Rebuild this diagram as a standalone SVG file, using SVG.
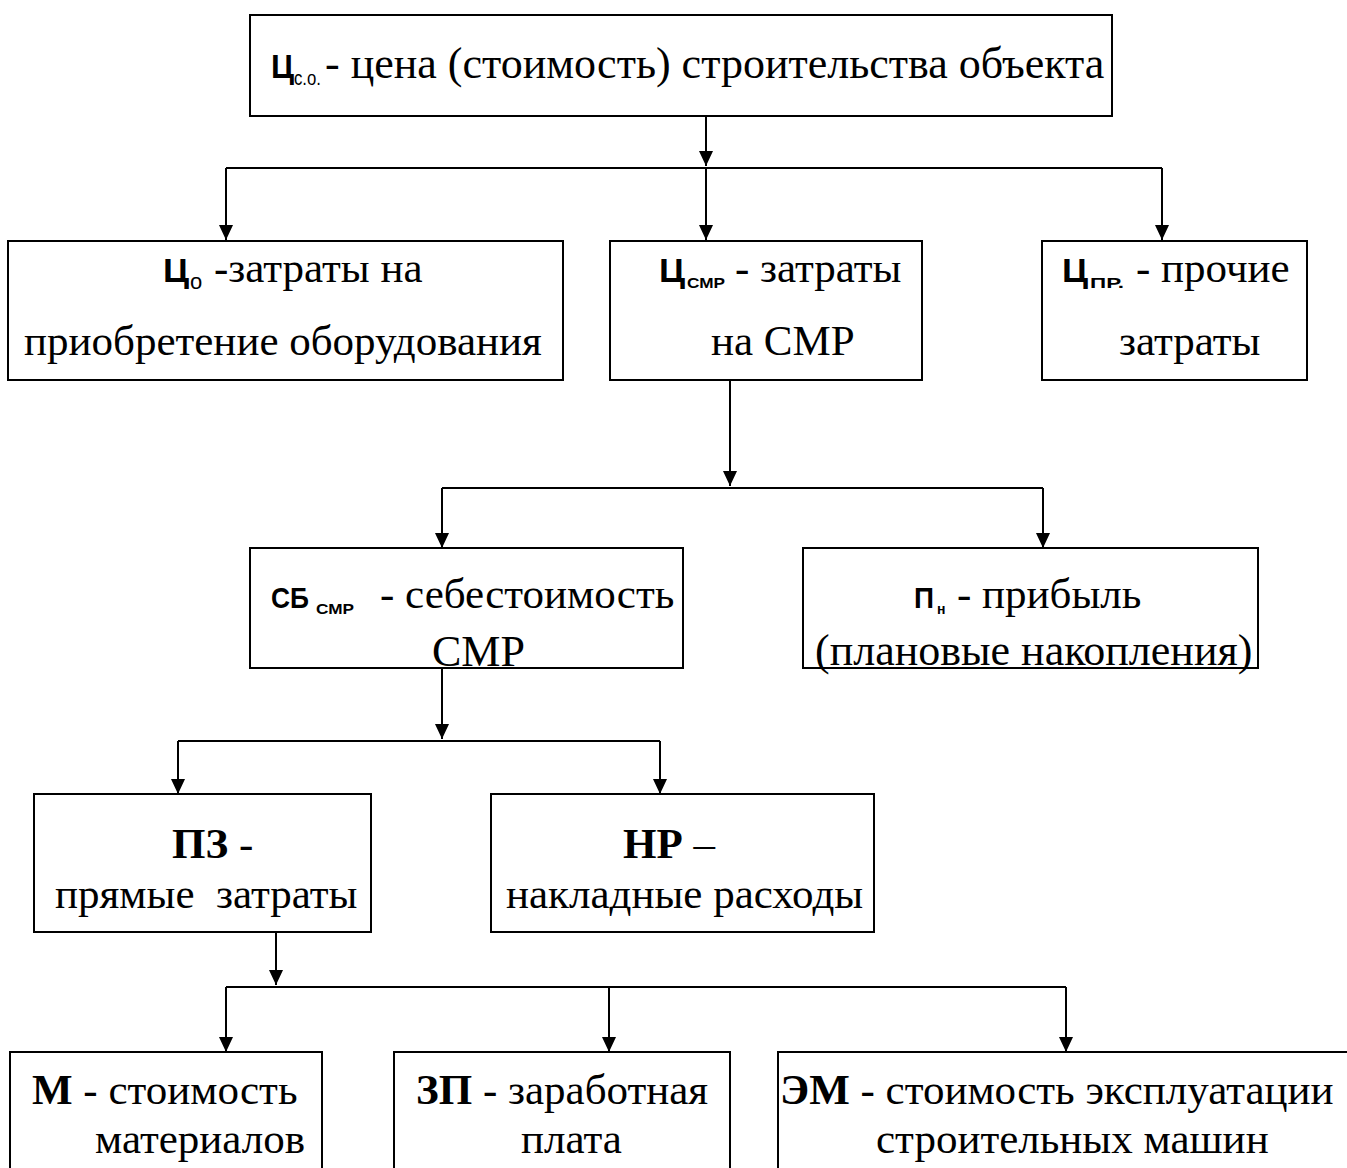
<svg xmlns="http://www.w3.org/2000/svg" width="1347" height="1168" viewBox="0 0 1347 1168">
<style>
.box{fill:#fff;stroke:#000;stroke-width:2}
.t{font-family:"Liberation Serif","Times New Roman",serif;font-size:43px;fill:#000}
.tb{font-family:"Liberation Serif","Times New Roman",serif;font-size:43px;font-weight:bold;fill:#000}
.s{font-family:"Liberation Sans",Arial,sans-serif;font-weight:bold;font-size:33px;fill:#000}
.sub{font-family:"Liberation Sans",Arial,sans-serif;font-weight:bold;font-size:15px;fill:#000}
.subr{font-family:"Liberation Sans",Arial,sans-serif;font-size:20px;fill:#000}
.c{fill:none;stroke:#000;stroke-width:2}
.ca{fill:none;stroke:#000;stroke-width:2;marker-end:url(#ah)}
</style>
<defs>
<marker id="ah" viewBox="0 0 15 14" refX="15" refY="7" markerWidth="15" markerHeight="14" markerUnits="userSpaceOnUse" orient="auto">
<path d="M0,0 L15,7 L0,14 z" fill="#000"/>
</marker>
</defs>
<rect width="1347" height="1168" fill="#fff"/>
<g id="connectors">
<path class="ca" d="M706,116 V166"/>
<path class="c" d="M226,168 H1162"/>
<path class="ca" d="M226,168 V240"/>
<path class="ca" d="M706,168 V240"/>
<path class="ca" d="M1162,168 V240"/>
<path class="ca" d="M730,380 V486"/>
<path class="c" d="M442,488 H1043"/>
<path class="ca" d="M442,488 V548"/>
<path class="ca" d="M1043,488 V548"/>
<path class="ca" d="M442,668 V739"/>
<path class="c" d="M178,741 H660"/>
<path class="ca" d="M178,741 V794"/>
<path class="ca" d="M660,741 V794"/>
<path class="ca" d="M276,932 V985"/>
<path class="c" d="M226,987 H1066"/>
<path class="ca" d="M226,987 V1052"/>
<path class="ca" d="M609,987 V1052"/>
<path class="ca" d="M1066,987 V1052"/>
</g>
<g id="n-top">
<rect class="box" x="250" y="15" width="862" height="101"/>
<text class="s" x="271" y="78" textLength="23" lengthAdjust="spacingAndGlyphs">Ц</text>
<text class="subr" x="294" y="85" textLength="27" lengthAdjust="spacingAndGlyphs">с.о.</text>
<text class="t" x="325" y="78" style="font-size:44px">- цена (стоимость) строительства объекта</text>
</g>
<g id="n-co">
<rect class="box" x="8" y="241" width="555" height="139"/>
<text class="s" x="163" y="282" textLength="26" lengthAdjust="spacingAndGlyphs">Ц</text>
<text class="subr" x="190" y="289" style="font-size:22px">о</text>
<text class="t" x="214" y="282">-затраты на</text>
<text class="t" x="24" y="355">приобретение оборудования</text>
</g>
<g id="n-csmr">
<rect class="box" x="610" y="241" width="312" height="139"/>
<text class="s" x="659" y="282" textLength="26" lengthAdjust="spacingAndGlyphs">Ц</text>
<text class="sub" x="687" y="288" textLength="38" lengthAdjust="spacingAndGlyphs">СМР</text>
<text class="t" x="735" y="282">- затраты</text>
<text class="t" x="711" y="355">на СМР</text>
</g>
<g id="n-cpr">
<rect class="box" x="1042" y="241" width="265" height="139"/>
<text class="s" x="1062" y="282" textLength="26" lengthAdjust="spacingAndGlyphs">Ц</text>
<text class="sub" x="1090" y="288" textLength="34" lengthAdjust="spacingAndGlyphs">ПР.</text>
<text class="t" x="1136" y="282">- прочие</text>
<text class="t" x="1119" y="355">затраты</text>
</g>
<g id="n-sb">
<rect class="box" x="250" y="548" width="433" height="120"/>
<text class="s" x="271" y="608" style="font-size:30px" textLength="38" lengthAdjust="spacingAndGlyphs">СБ</text>
<text class="sub" x="316" y="614" textLength="38" lengthAdjust="spacingAndGlyphs">СМР</text>
<text class="t" x="380" y="608">- себестоимость</text>
<text class="t" x="432" y="666" style="font-size:44px">СМР</text>
</g>
<g id="n-pn">
<rect class="box" x="803" y="548" width="455" height="120"/>
<text class="s" x="914" y="608" style="font-size:30px" textLength="20" lengthAdjust="spacingAndGlyphs">П</text>
<text class="sub" x="937" y="614" style="font-size:14px">н</text>
<text class="t" x="957" y="608">- прибыль</text>
<text class="t" x="815" y="665" style="font-size:44px">(плановые накопления)</text>
</g>
<g id="n-pz">
<rect class="box" x="34" y="794" width="337" height="138"/>
<text y="858"><tspan class="tb" x="172">ПЗ</tspan><tspan class="t"> -</tspan></text>
<text class="t" x="55" y="908">прямые&#160; затраты</text>
</g>
<g id="n-nr">
<rect class="box" x="491" y="794" width="383" height="138"/>
<text y="858"><tspan class="tb" x="623">НР</tspan><tspan class="t"> –</tspan></text>
<text class="t" x="506" y="908">накладные расходы</text>
</g>
<g id="n-m">
<rect class="box" x="10" y="1052" width="312" height="160"/>
<text y="1104"><tspan class="tb" x="32">М</tspan><tspan class="t"> - стоимость</tspan></text>
<text class="t" x="95" y="1153">материалов</text>
</g>
<g id="n-zp">
<rect class="box" x="394" y="1052" width="336" height="160"/>
<text y="1104"><tspan class="tb" x="416">ЗП</tspan><tspan class="t"> - заработная</tspan></text>
<text class="t" x="521" y="1153">плата</text>
</g>
<g id="n-em">
<rect class="box" x="778" y="1052" width="600" height="160"/>
<text y="1104"><tspan class="tb" x="780">ЭМ</tspan><tspan class="t"> - стоимость эксплуатации</tspan></text>
<text class="t" x="876" y="1153">строительных машин</text>
</g>
</svg>
